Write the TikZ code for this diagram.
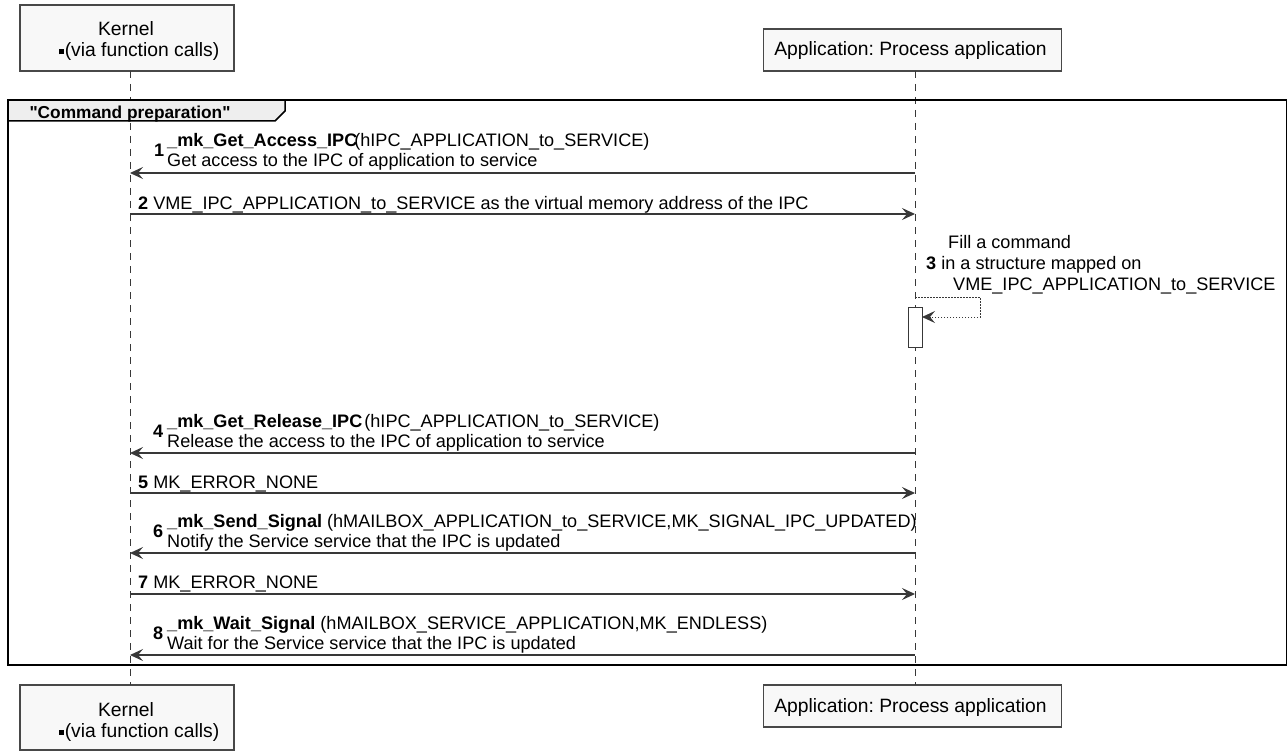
\documentclass[tikz,border=0pt]{standalone}
\usepackage{fontspec}
\setmainfont{Liberation Sans}
\usetikzlibrary{arrows.meta}
\definecolor{ink}{HTML}{383838}
\definecolor{boxline}{HTML}{484848}
\definecolor{boxfill}{HTML}{F8F8F8}
\definecolor{tabfill}{HTML}{EEEEEE}
\frenchspacing

\begin{document}
\begin{tikzpicture}[x=1pt,y=-1pt,
  lifeline/.style={draw=ink, line width=1pt, dash pattern=on 7pt off 6pt},
  partbox/.style={draw=boxline, fill=boxfill, line width=1.5pt, inner sep=0pt},
  ptext/.style={font=\fontsize{19.3}{22}\selectfont, anchor=base, inner sep=0pt},
  mtext/.style={font=\fontsize{18.1}{20}\selectfont, anchor=base west, inner sep=0pt},
  numtext/.style={font=\fontsize{18.1}{20}\selectfont\bfseries, anchor=base west, inner sep=0pt},
  tip/.style={-{Stealth[length=13pt,width=12pt,inset=5pt]}},
  msg/.style={draw=ink, line width=1.2pt, tip},
  selfmsg/.style={draw=ink, line width=1pt, dash pattern=on 1.5pt off 1.5pt, tip}
]
\useasboundingbox (0,0) rectangle (1287,754);

% participant heads
\node[partbox, minimum width=214pt, minimum height=66pt] (kTop) at (127,38) {};
\node[ptext] (kTopName) at (126,36) {Kernel};
\node[ptext] (kTopNote) at (139,57) {\rule[2.5pt]{5pt}{5pt}\kern1pt(via function calls)};
\node[partbox, minimum width=298pt, minimum height=42pt] (aTop) at (912.5,50) {};
\node[ptext] (aTopName) at (910.5,56) {Application: Process application};

% participant feet
\node[partbox, minimum width=214pt, minimum height=65pt] (kBot) at (127,717.5) {};
\node[ptext] (kBotName) at (126,716) {Kernel};
\node[ptext] (kBotNote) at (139,737) {\rule[2.5pt]{5pt}{5pt}\kern1pt(via function calls)};
\node[partbox, minimum width=298pt, minimum height=42pt] (aBot) at (912.5,706) {};
\node[ptext] (aBotName) at (910.5,712) {Application: Process application};

% lifelines
\coordinate (kLifeTop) at (130,71);
\coordinate (kLifeBot) at (130,685);
\coordinate (aLifeTop) at (915,71);
\coordinate (aLifeBot) at (915,685);
\draw[lifeline] (kLifeTop) -- (kLifeBot);
\draw[lifeline] (aLifeTop) -- (aLifeBot);

% message end points on the two lifelines
\foreach \n/\y in {1/173,2/214,4/453,5/493,6/553,7/594,8/655}{
  \coordinate (k\n) at (130,\y);
  \coordinate (a\n) at (915,\y);
}

% group frame and its tab
\coordinate (frameNW) at (8,100);
\coordinate (frameSE) at (1287.5,665);
\draw[fill=tabfill, line width=1.5pt] (8,100) -- (285,100) -- (285,111) -- (275,121) -- (8,121) -- cycle;
\node[font=\fontsize{17.3}{20}\selectfont\bfseries, anchor=base, inner sep=0pt] (groupLabel) at (130,118.5) {\textquotedbl Command preparation\textquotedbl};
\draw[line width=2.7pt] (frameNW) rectangle (frameSE);

% 1
\draw[msg] (a1) -- (k1);
\node[numtext] (n1) at (154,157) {1};
\node[mtext] (m1a) at (167,147) {\textbf{\_mk\_Get\_Access\_IPC}\kern-3pt(hIPC\_APPLICATION\_to\_SERVICE)};
\node[mtext] (m1b) at (167,167) {Get access to the IPC of application to service};

% 2
\draw[msg] (k2) -- (a2);
\node[mtext] (m2) at (138,209) {\textbf{2} VME\_IPC\_APPLICATION\_to\_SERVICE as the virtual memory address of the IPC};

% 3 (self call)
\node[draw=ink, fill=white, line width=1pt, minimum width=14pt, minimum height=40pt, inner sep=0pt] (act) at (915,327) {};
\coordinate (s0) at (915,297);
\coordinate (s1) at (980,297);
\coordinate (s2) at (980,317);
\coordinate (s3) at (922,317);
\draw[selfmsg] (s0) -- (s1) -- (s2) -- (s3);
\node[mtext] (m3a) at (948,248) {Fill a command};
\node[mtext] (m3b) at (926,269) {\textbf{3} in a structure mapped on};
\node[mtext] (m3c) at (953,290) {VME\_IPC\_APPLICATION\_to\_SERVICE};

% 4
\draw[msg] (a4) -- (k4);
\node[numtext] (n4) at (153,437) {4};
\node[mtext] (m4a) at (167,427) {\textbf{\_mk\_Get\_Release\_IPC}\kern2pt(hIPC\_APPLICATION\_to\_SERVICE)};
\node[mtext] (m4b) at (167,447) {Release the access to the IPC of application to service};

% 5
\draw[msg] (k5) -- (a5);
\node[mtext] (m5) at (138,488) {\textbf{5} MK\_ERROR\_NONE};

% 6
\draw[msg] (a6) -- (k6);
\node[numtext] (n6) at (153,537) {6};
\node[mtext] (m6a) at (167,527) {\textbf{\_mk\_Send\_Signal} (hMAILBOX\_APPLICATION\_to\_SERVICE,MK\_SIGNAL\_IPC\_UPDATED)};
\node[mtext] (m6b) at (167,547) {Notify the Service service that the IPC is updated};

% 7
\draw[msg] (k7) -- (a7);
\node[mtext] (m7) at (138,588) {\textbf{7} MK\_ERROR\_NONE};

% 8
\draw[msg] (a8) -- (k8);
\node[numtext] (n8) at (153,639) {8};
\node[mtext] (m8a) at (167,629) {\textbf{\_mk\_Wait\_Signal} (hMAILBOX\_SERVICE\_APPLICATION,MK\_ENDLESS)};
\node[mtext] (m8b) at (167,649) {Wait for the Service service that the IPC is updated};
\end{tikzpicture}
\end{document}
